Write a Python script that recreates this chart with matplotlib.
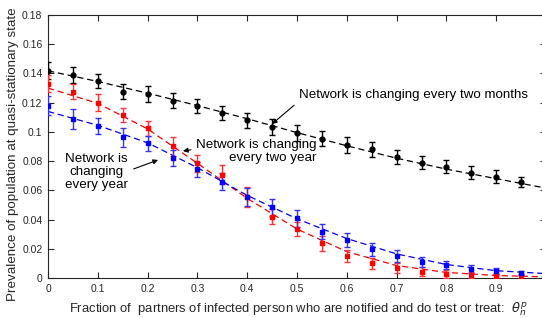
import matplotlib
matplotlib.use("Agg")
import matplotlib.pyplot as plt
import numpy as np

plt.rcParams['font.family'] = ['Liberation Sans', 'DejaVu Sans']

x = [0.0, 0.05, 0.1, 0.15, 0.2, 0.25, 0.3, 0.35, 0.4, 0.45,
     0.5, 0.55, 0.6, 0.65, 0.7, 0.75, 0.8, 0.85, 0.9, 0.95]

black_y = [0.1419, 0.1390, 0.1348, 0.1275, 0.1259, 0.1214, 0.1177, 0.1129, 0.1080, 0.1033,
           0.0994, 0.0953, 0.0910, 0.0880, 0.0829, 0.0789, 0.0762, 0.0721, 0.0693, 0.0655]
black_err = [0.0060, 0.0055, 0.0050, 0.0050, 0.0055, 0.0050, 0.0050, 0.0045, 0.0050, 0.0055,
             0.0055, 0.0050, 0.0055, 0.0050, 0.0050, 0.0045, 0.0045, 0.0045, 0.0045, 0.0035]

red_y = [0.1330, 0.1275, 0.1200, 0.1116, 0.1024, 0.0903, 0.0785, 0.0705, 0.0556, 0.0420,
         0.0335, 0.0237, 0.0150, 0.0100, 0.0066, 0.0043, 0.0027, 0.0018, 0.0014, 0.0009]
red_err = [0.0060, 0.0050, 0.0060, 0.0050, 0.0050, 0.0065, 0.0060, 0.0065, 0.0070, 0.0050,
           0.0050, 0.0050, 0.0040, 0.0040, 0.0035, 0.0030, 0.0025, 0.0020, 0.0015, 0.0015]

blue_y = [0.1180, 0.1088, 0.1040, 0.0962, 0.0921, 0.0819, 0.0743, 0.0659, 0.0556, 0.0483,
          0.0408, 0.0317, 0.0260, 0.0196, 0.0150, 0.0112, 0.0089, 0.0062, 0.0050, 0.0036]
blue_err = [0.0065, 0.0070, 0.0055, 0.0065, 0.0050, 0.0055, 0.0050, 0.0060, 0.0060, 0.0060,
            0.0060, 0.0050, 0.0050, 0.0045, 0.0040, 0.0035, 0.0030, 0.0025, 0.0020, 0.0015]

fit_x = [0.0, 0.1, 0.2, 0.3, 0.4, 0.5, 0.6, 0.7, 0.8, 0.9, 1.0]
black_fit = [0.1418, 0.1345, 0.1265, 0.1180, 0.1090, 0.0995, 0.0905, 0.0820, 0.0745, 0.0680, 0.0615]
red_fit = [0.1300, 0.1195, 0.1020, 0.0785, 0.0545, 0.0335, 0.0180, 0.0085, 0.0038, 0.0017, 0.0008]
blue_fit = [0.1140, 0.1045, 0.0925, 0.0755, 0.0565, 0.0405, 0.0270, 0.0165, 0.0092, 0.0050, 0.0030]

fig = plt.figure(figsize=(5.42, 3.18), dpi=100)
ax = fig.add_axes([48/542, (318-278)/318, 498/542, 263/318])

for fy, col in [(black_fit, 'black'), (red_fit, 'red'), (blue_fit, 'blue')]:
    ax.plot(fit_x, fy, linestyle=(0, (5, 3)), color=col, lw=0.9, zorder=2)

ax.errorbar(x, black_y, yerr=black_err, fmt='o', color='black', ms=3.5,
            elinewidth=1.0, capsize=2, capthick=1.0, zorder=3)
ax.errorbar(x, red_y, yerr=red_err, fmt='s', color='red', ecolor=(1, 0.2, 0.2), ms=2.5,
            elinewidth=1.0, capsize=2, capthick=1.0, zorder=3)
ax.errorbar(x, blue_y, yerr=blue_err, fmt='s', color='blue', ecolor=(0.2, 0.2, 1), ms=2.5,
            elinewidth=1.0, capsize=2, capthick=1.0, zorder=3)

ax.set_xlim(0, 1)
ax.set_ylim(0, 0.18)
ax.set_xticks([0, 0.1, 0.2, 0.3, 0.4, 0.5, 0.6, 0.7, 0.8, 0.9])
ax.set_xticklabels(['0', '0.1', '0.2', '0.3', '0.4', '0.5', '0.6', '0.7', '0.8', '0.9'])
ax.set_yticks([0, 0.02, 0.04, 0.06, 0.08, 0.1, 0.12, 0.14, 0.16, 0.18])
ax.set_yticklabels(['0', '0.02', '0.04', '0.06', '0.08', '0.1', '0.12', '0.14', '0.16', '0.18'])
ax.tick_params(direction='in', length=4, width=0.8, labelsize=7.5, colors='#262626',
               top=True, right=True, pad=4)
for s in ax.spines.values():
    s.set_color('#262626')
    s.set_linewidth(0.8)

ax.set_ylabel('Prevalence of population at quasi-stationary state', fontsize=9.6, color='#262626')
ax.yaxis.set_label_coords(-0.058, 0.472)
ax.set_xlabel(r'Fraction of  partners of infected person who are notified and do test or treat:  $\theta_n^p$',
              fontsize=9.4, color='#262626')
ax.xaxis.set_label_coords(0.503, -0.085)

ap = dict(arrowstyle='-|>', color='black', lw=0.8, mutation_scale=7, shrinkA=2, shrinkB=0)
ax.annotate('Network is changing every two months', xy=(0.45, 0.1054), xytext=(0.504, 0.1252),
            fontsize=9.6, ha='left', va='center', arrowprops=dict(ap, relpos=(0, 0)))
ax.annotate('Network is changing\nevery two year', xy=(0.271, 0.0869), xytext=(0.540, 0.0866),
            fontsize=9.6, ha='right', va='center', multialignment='right', linespacing=1.15,
            arrowprops=dict(ap, relpos=(0, 0.6)))
ax.annotate('Network is\nchanging\nevery year', xy=(0.221, 0.0808), xytext=(0.098, 0.0725),
            fontsize=9.6, ha='center', va='center', multialignment='center', linespacing=1.15,
            arrowprops=dict(ap, relpos=(0.95, 0.5)))

fig.savefig('out.png', dpi=100)
